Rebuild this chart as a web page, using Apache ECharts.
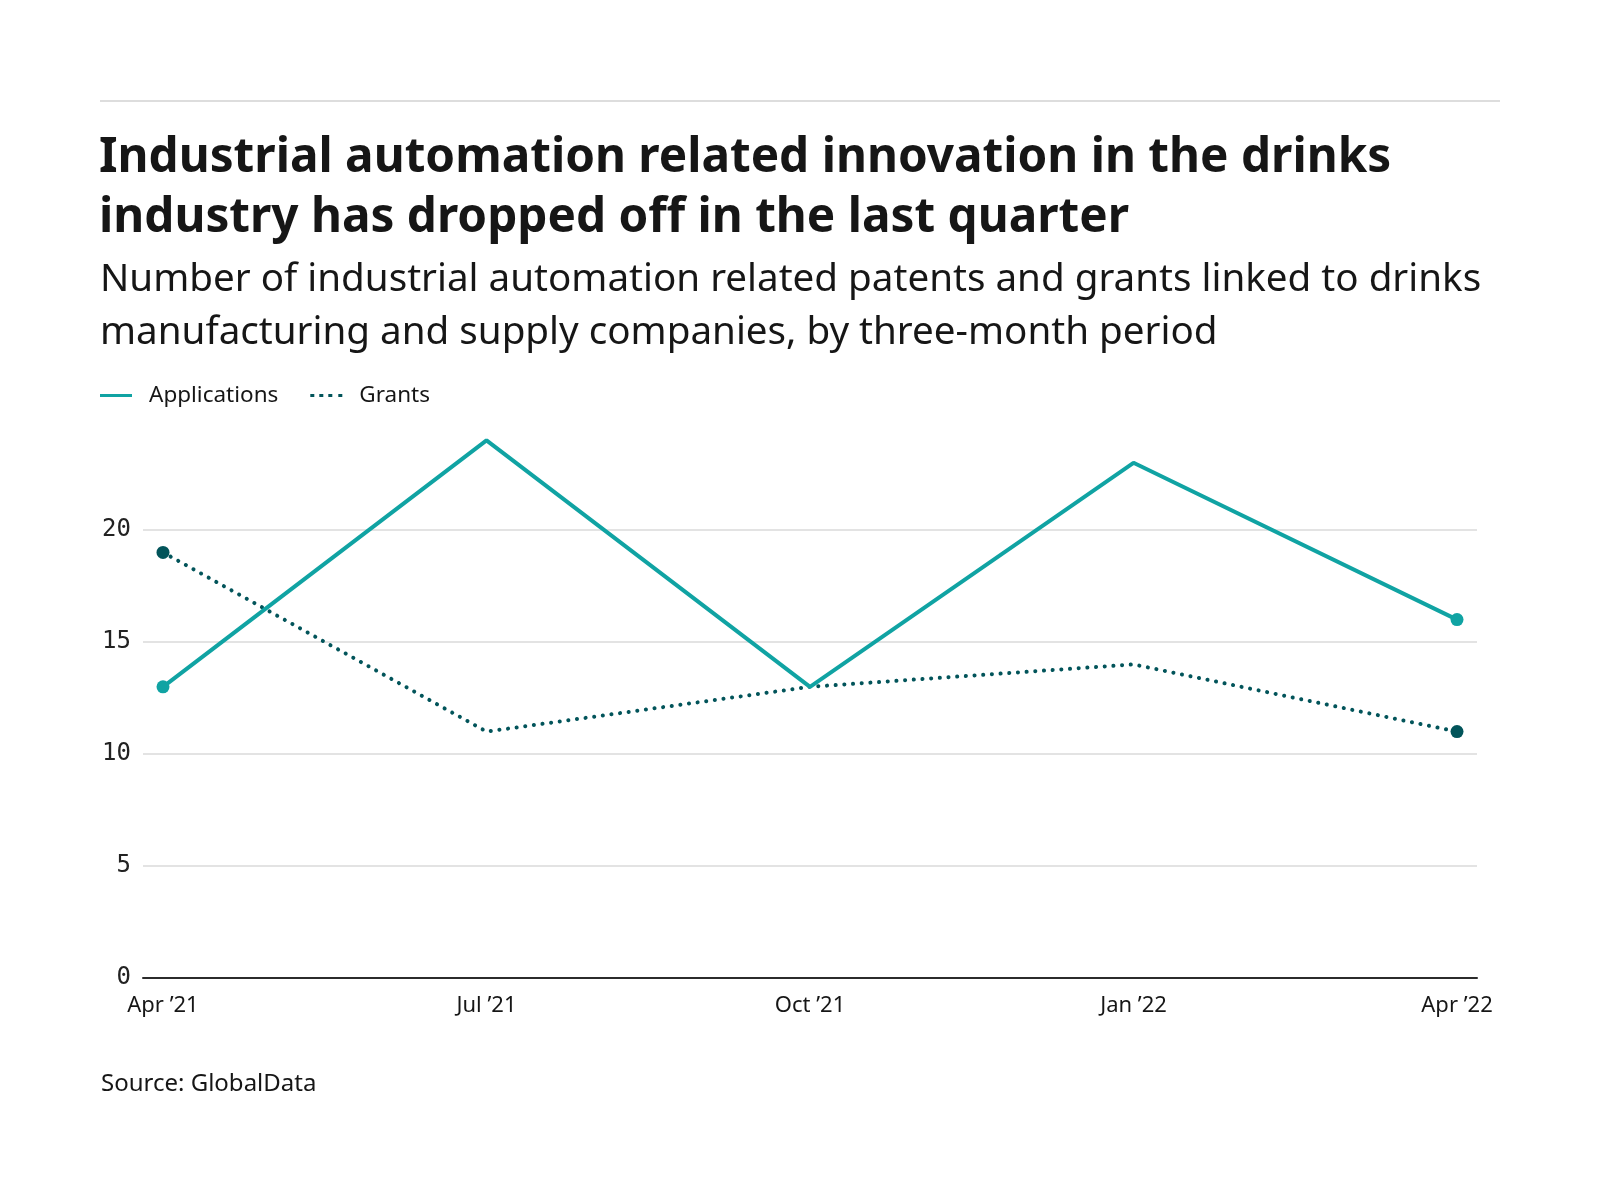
<!DOCTYPE html>
<html>
<head>
<meta charset="utf-8">
<script src="https://cdn.jsdelivr.net/npm/echarts@6/dist/echarts.min.js"></script>
<style>
html,body{margin:0;padding:0;background:#fff;}
#chart{width:1600px;height:1200px;}
</style>
</head>
<body>
<div id="chart"></div>
<script>
const categories = ["Apr \u201921", "Jul \u201921", "Oct \u201921", "Jan \u201922", "Apr \u201922"];
const applications = [13, 24, 13, 23, 16];
const grants = [19, 11, 13, 14, 11];
const yTicks = [0, 5, 10, 15, 20];

const SANS = "'Noto Sans', Roboto, sans-serif";
const MONO = "'DejaVu Sans Mono', 'Liberation Mono', monospace";
const TEAL = "#10a3a3";
const DARK = "#02545a";

function toPoints(arr, color) {
  return arr.map((v, i) => {
    const edge = (i === 0 || i === arr.length - 1);
    return {
      value: [i, v],
      symbol: edge ? 'circle' : 'none',
      symbolSize: 13,
      itemStyle: { color: color }
    };
  });
}

const chart = echarts.init(document.getElementById('chart'), null, { renderer: 'canvas' });
const pad = 0.0618;
chart.setOption({
  animation: false,
  backgroundColor: '#ffffff',
  graphic: [{
    type: 'line',
    shape: { x1: 100, y1: 101, x2: 1500, y2: 101 },
    style: { stroke: '#dddddd', lineWidth: 2 }
  }],
  title: [{
    text: "Industrial automation related innovation in the drinks\nindustry has dropped off in the last quarter",
    left: 99, top: 129, padding: 0,
    textStyle: { fontFamily: SANS, fontWeight: 'bold', fontSize: 47.7, lineHeight: 59.5, color: '#161616' }
  }, {
    text: "Number of industrial automation related patents and grants linked to drinks\nmanufacturing and supply companies, by three-month period",
    left: 100, top: 254, padding: 0,
    textStyle: { fontFamily: SANS, fontWeight: 'normal', fontSize: 38.6, lineHeight: 53, color: '#161616' }
  }, {
    text: "Source: GlobalData",
    left: 101, top: 1072, padding: 0,
    textStyle: { fontFamily: SANS, fontWeight: 'normal', fontSize: 24, color: '#161616' }
  }],
  legend: {
    left: 100, top: 384, padding: 0,
    itemWidth: 32, itemHeight: 14, itemGap: 32,
    textStyle: { fontFamily: SANS, fontSize: 22.5, color: '#161616', padding: [0, 0, 0, 12] },
    data: [
      { name: 'Applications', icon: 'path://M0,5.5 L32,5.5 L32,8.5 L0,8.5 Z', itemStyle: { color: TEAL } },
      { name: 'Grants', icon: 'path://M0,5.5 L4,5.5 L4,8.5 L0,8.5 Z M9,5.5 L13,5.5 L13,8.5 L9,8.5 Z M18,5.5 L22,5.5 L22,8.5 L18,8.5 Z M28,5.5 L32,5.5 L32,8.5 L28,8.5 Z', itemStyle: { color: DARK } }
    ]
  },
  grid: { left: 143, right: 123, top: 418, bottom: 222, containLabel: false },
  xAxis: {
    type: 'value',
    min: -pad, max: categories.length - 1 + pad,
    axisLine: { show: true, lineStyle: { color: '#2b2b2b', width: 2 } },
    axisTick: { show: false },
    splitLine: { show: false },
    axisLabel: {
      customValues: categories.map((c, i) => i),
      formatter: v => categories[Math.round(v)] || '',
      fontFamily: SANS, fontSize: 22, color: '#161616', margin: 17
    }
  },
  yAxis: {
    type: 'value',
    min: 0, max: 25, interval: 5,
    axisLine: { show: false },
    axisTick: { show: false },
    splitLine: { show: true, showMaxLine: false, lineStyle: { color: '#e3e3e3', width: 2 } },
    axisLabel: {
      customValues: yTicks,
      fontFamily: MONO, fontSize: 24, color: '#222', margin: 12,
      verticalAlign: 'middle', padding: [4, 0, 0, 0]
    }
  },
  series: [{
    name: 'Applications',
    type: 'line',
    data: toPoints(applications, TEAL),
    lineStyle: { color: TEAL, width: 4 },
    itemStyle: { color: TEAL },
    z: 3
  }, {
    name: 'Grants',
    type: 'line',
    data: toPoints(grants, DARK),
    lineStyle: { color: DARK, width: 4, type: [0.1, 8.6], cap: 'round' },
    itemStyle: { color: DARK },
    z: 2
  }]
});
</script>
</body>
</html>
